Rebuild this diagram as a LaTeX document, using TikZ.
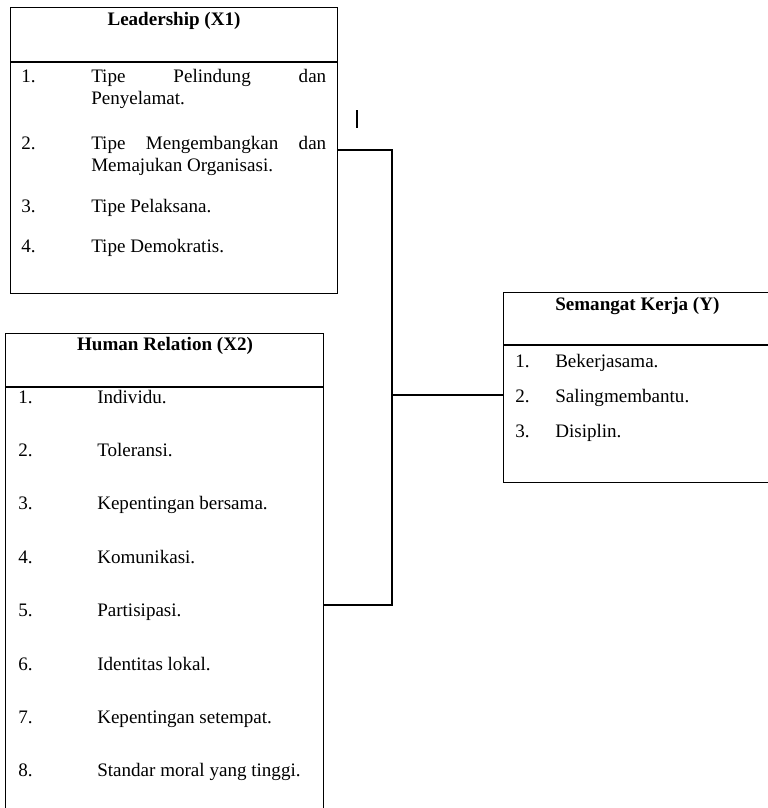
\documentclass[tikz,border=0pt]{standalone}
\usepackage{fontspec}
\setmainfont{Liberation Serif}
\usepackage{tikz}
\usetikzlibrary{positioning}

\begin{document}
\begin{tikzpicture}[
  x=0.75pt, y=-0.75pt,
  frame/.style={draw, line width=0.9pt, anchor=north west, inner sep=0pt},
  rule/.style={line width=0.9pt},
  link/.style={line width=0.9pt},
  title/.style={font=\fontsize{14.3pt}{17pt}\selectfont\bfseries, inner sep=0pt},
  item/.style={font=\fontsize{14.3pt}{17pt}\selectfont, anchor=base west, inner sep=0pt}
]
\useasboundingbox (0,0) rectangle (768,808);
\clip (0,0) rectangle (768,808);

% boxes
\node[frame, minimum width=245.25pt, minimum height=214.5pt] (lead) at (10,7) {};
\node[frame, minimum width=238.5pt, minimum height=365.25pt] (human) at (5,333) {};
\node[frame, minimum width=207.75pt, minimum height=142.5pt] (semangat) at (503,292) {};

% header rules
\draw[rule] (lead.west |- 0,62) -- (lead.east |- 0,62);
\draw[rule] (human.west |- 0,387) -- (human.east |- 0,387);
\draw[rule] (semangat.west |- 0,345) -- (semangat.east |- 0,345);

% titles
\node[title, anchor=base] (leadT) at (174,25) {Leadership (X1)};
\node[title, anchor=base] (humanT) at (165,350) {Human Relation (X2)};
\node[title, anchor=base west] (semangatT) at (555,310) {Semangat Kerja (Y)};

% Leadership items
\node[item] (l1n) at (21,82) {1.};
\node[item] (l1a) at (91,82) {\hbox to 176.25pt{Tipe\hfill Pelindung\hfill dan}};
\node[item] (l1b) at (91,104) {Penyelamat.};
\node[item] (l2n) at (21,149) {2.};
\node[item] (l2a) at (91,149) {\hbox to 176.25pt{Tipe\hfill Mengembangkan\hfill dan}};
\node[item] (l2b) at (91,171) {Memajukan Organisasi.};
\node[item] (l3n) at (21,212) {3.};
\node[item] (l3a) at (91,212) {Tipe Pelaksana.};
\node[item] (l4n) at (21,252) {4.};
\node[item] (l4a) at (91,252) {Tipe Demokratis.};

% Human Relation items
\foreach \txt [count=\i] in {Individu., Toleransi., Kepentingan bersama., Komunikasi.,
    Partisipasi., Identitas lokal., Kepentingan setempat., Standar moral yang tinggi.} {
  \node[item] (h\i n) at (18,{403+(\i-1)*53.4}) {\i.};
  \node[item] (h\i) at (97,{403+(\i-1)*53.4}) {\txt};
}

% Semangat Kerja items
\foreach \txt [count=\i] in {Bekerjasama., Salingmembantu., Disiplin.} {
  \node[item] (s\i n) at (515,{367+(\i-1)*35}) {\i.};
  \node[item] (s\i) at (555,{367+(\i-1)*35}) {\txt};
}

% connectors
\coordinate (jtop) at (392,150);
\coordinate (jmid) at (392,395);
\coordinate (jbot) at (392,605);
\coordinate (tick) at (357,110);

\draw[link] (lead.east |- jtop) -- (jtop) -- (jbot) -- (human.east |- jbot);
\draw[link] (jmid) -- (semangat.west |- jmid);
\draw[link] (tick) -- ++(0,18);
\end{tikzpicture}
\end{document}
